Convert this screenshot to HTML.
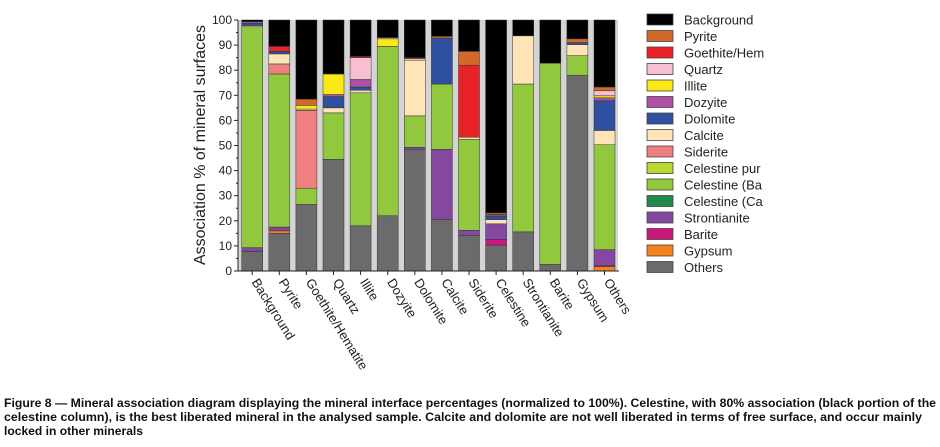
<!DOCTYPE html>
<html><head><meta charset="utf-8"><style>
body{margin:0;background:#fff;width:940px;height:442px;overflow:hidden;font-family:"Liberation Sans",sans-serif}
</style></head><body>
<svg id="chart" width="940" height="442" xmlns="http://www.w3.org/2000/svg" font-family="Liberation Sans, sans-serif">
<rect x="238" y="20" width="380" height="251" fill="#d4d4d4"/>
<g id="bars"></g>
<g id="axis"></g>
<g id="xlabels"></g>
<text transform="translate(205,145) rotate(-90)" text-anchor="middle" font-size="16" fill="#222">Association % of mineral surfaces</text>
<g id="legend"></g>
<g font-size="12" font-weight="bold" fill="#111">
<text x="4" y="407" textLength="932" lengthAdjust="spacingAndGlyphs">Figure 8 — Mineral association diagram displaying the mineral interface percentages (normalized to 100%). Celestine, with 80% association (black portion of the</text>
<text x="4" y="421" textLength="918" lengthAdjust="spacingAndGlyphs">celestine column), is the best liberated mineral in the analysed sample. Calcite and dolomite are not well liberated in terms of free surface, and occur mainly</text>
<text x="4" y="435" textLength="139" lengthAdjust="spacingAndGlyphs">locked in other minerals</text>
</g>
</svg>
<script>
const categories=["Background","Pyrite","Goethite/Hematite","Quartz","Illite","Dozyite","Dolomite","Calcite","Siderite","Celestine","Strontianite","Barite","Gypsum","Others"];
const others=[7.8,15,26.5,44.5,18,22,48.5,20.5,14.2,10.3,15.6,2.7,78,0];
const gypsum=[0,1,0,0,0,0,0,0,0,0,0,0,0,1.8];
const barite=[0,0,0,0,0,0,0,0,0,2.3,0,0,0,0.3];
const strontianite=[1.5,1.5,0,0,0,0,0.8,28,2,6.2,0,0,0,6.4];
const celestineCa=[0,0,0,0,0,0,0,0,0,0,0,0,0,0];
const celestineBa=[88,61,6.5,18.5,53,67.5,12.5,26,36.3,0,58.9,80.1,7.8,41.8];
const celestinePure=[0,0,0,0,0,0,0,0,0,0,0,0,0,0];
const siderite=[0,4,31,0,0,0,0,0,0,0,0,0,0,0];
const calcite=[0.5,4,0.5,2,1,0,22.2,0,0.8,1.7,19.2,0,4.4,5.7];
const dolomite=[0.9,1,0,4.5,1.3,0,0,18.3,0,1.4,0,0,0.8,11.8];
const dozyite=[0.6,0,0,0.8,3,0,0,0,0,0.5,0,0,0,1.2];
const illite=[0,0,1.5,8.2,0,3,0,0,0,0.3,0,0,0,0.8];
const quartz=[0,0,0,0,8.7,0.5,0.6,0,0,0,0,0,0,2];
const goethite=[0,2,0,0,0.5,0,0,0,28.7,0,0,0,0,0];
const pyrite=[0,0,2.5,0,0,0,0.4,0.7,5.5,0.5,0,0,1.5,1.5];
const yTicks=[0,10,20,30,40,50,60,70,80,90,100];
const seriesNames=["Others","Gypsum","Barite","Strontianite","Celestine (Ca","Celestine (Ba","Celestine pur","Siderite","Calcite","Dolomite","Dozyite","Illite","Quartz","Goethite/Hem","Pyrite","Background"];
const seriesData=[others,gypsum,barite,strontianite,celestineCa,celestineBa,celestinePure,siderite,calcite,dolomite,dozyite,illite,quartz,goethite,pyrite,null];
const colors=["#6b6b6b","#f5821f","#c8187a","#8448a0","#1f8a4c","#92c83e","#b9d82f","#f08080","#ffe4b8","#2f4fa0","#b04fa6","#f7e816","#f8bfd0","#e82227","#d2692a","#000"];
const NS="http://www.w3.org/2000/svg";
const x0=238,y0=271,yTop=20,pitch=27.1,bw=21;
const yS=v=>y0-(v/100)*(y0-yTop);
const xC=i=>252.2+i*pitch;
function mk(t,a,p){const e=document.createElementNS(NS,t);for(const k in a)e.setAttribute(k,a[k]);p.appendChild(e);return e;}
const bars=document.getElementById('bars');
categories.forEach((c,i)=>{
  let cum=0;
  seriesData.forEach((arr,s)=>{
    const v=arr?arr[i]:Math.max(0,100-cum);
    if(v<=0)return;
    const r=mk('rect',{x:xC(i)-bw/2,y:yS(cum+v),width:bw,height:yS(cum)-yS(cum+v),fill:colors[s],stroke:"#333","stroke-width":0.5},bars);
    
    
    cum+=v;
  });
});
const ax=document.getElementById('axis');
mk('line',{x1:x0,y1:yTop,x2:x0,y2:y0,stroke:"#222","stroke-width":1},ax);
mk('line',{x1:x0,y1:y0,x2:619,y2:y0,stroke:"#222","stroke-width":1},ax);
yTicks.forEach(t=>{
  mk('line',{x1:x0-4,y1:yS(t),x2:x0,y2:yS(t),stroke:"#222"},ax);
  const tx=mk('text',{x:x0-6,y:yS(t)+4,"text-anchor":"end","font-size":12,fill:"#222"},ax);
  tx.textContent=t;
  
  
  if(t<100)mk('line',{x1:x0-2,y1:yS(t+5),x2:x0,y2:yS(t+5),stroke:"#222"},ax);
});
const xl=document.getElementById('xlabels');
categories.forEach((c,i)=>{
  mk('line',{x1:xC(i),y1:y0,x2:xC(i),y2:y0+4,stroke:"#222"},xl);
  const tx=mk('text',{transform:`translate(${xC(i)-1},${y0+11}) rotate(58)`,"font-size":13,fill:"#222"},xl);
  tx.textContent=c;
  
  
});
const lg=document.getElementById('legend');
for(let k=0;k<16;k++){
  const s=15-k,y=14+k*16.5;
  const sw=mk('rect',{x:647,y:y,width:26,height:11,fill:colors[s],stroke:"#444","stroke-width":0.8},lg);
  
  
  const tx=mk('text',{x:684,y:y+10.5,"font-size":13,fill:"#222"},lg);
  tx.textContent=seriesNames[s];
  
  
}
</script>
</body></html>
